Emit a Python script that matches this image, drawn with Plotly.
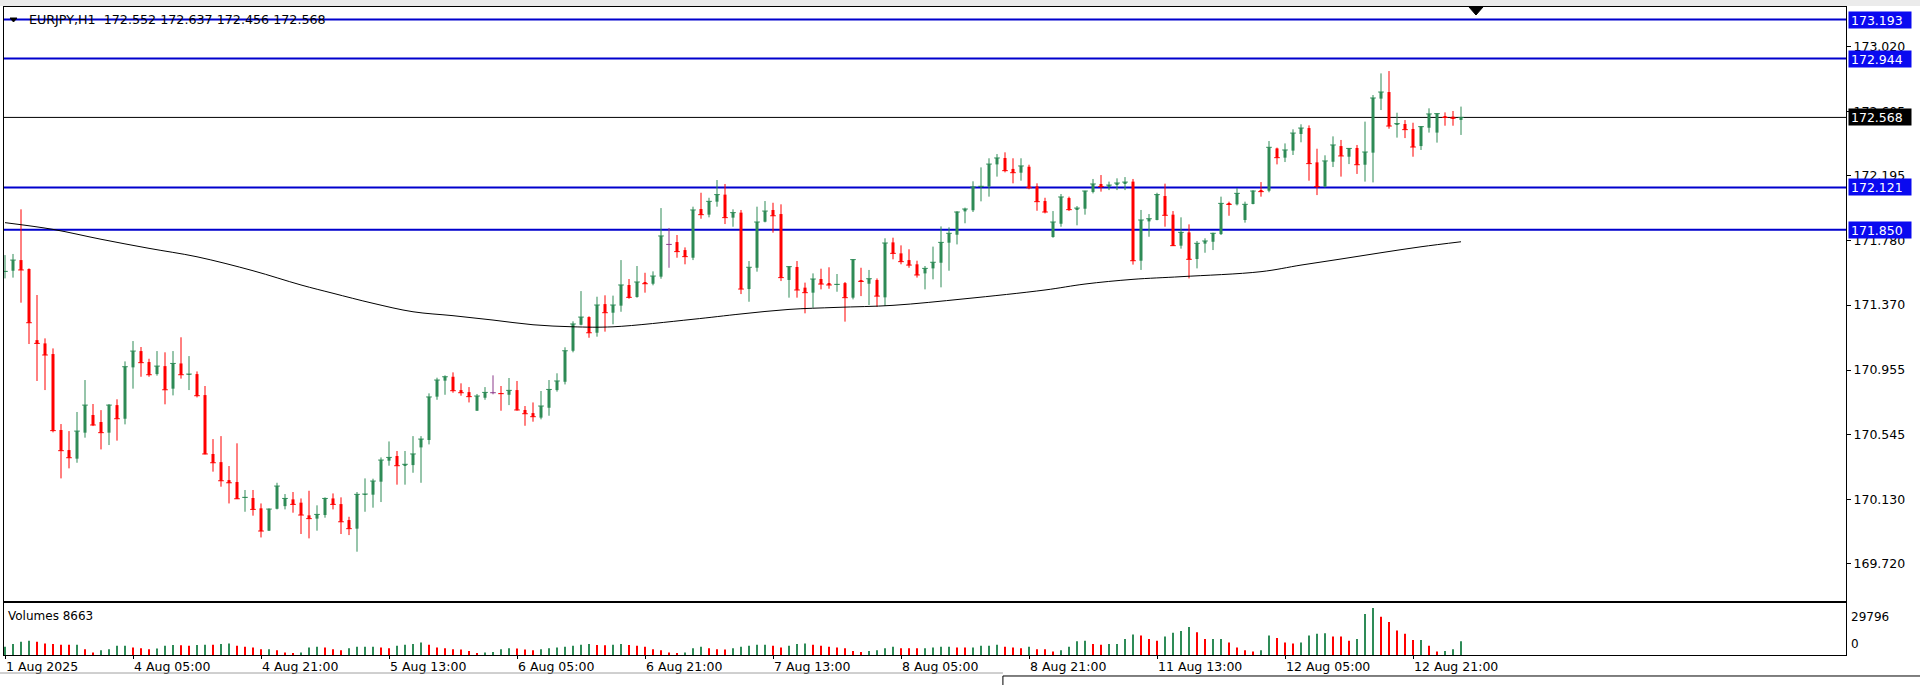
import plotly.graph_objects as go
from plotly.subplots import make_subplots

# EURJPY H1, 1 Aug 2025 13:00 .. 13 Aug 2025 03:00 (bar index 0..182)
symbol = "EURJPY,H1"

opens = [171.581, 171.589, 171.657, 171.600, 171.146, 171.125, 171.057, 170.572, 170.444, 170.389,
         170.555, 170.668, 170.623, 170.555, 170.731, 170.644, 170.972, 171.076, 171.006, 170.929,
         170.980, 170.836, 170.997, 170.925, 170.929, 170.795, 170.419, 170.367, 170.252, 170.240,
         170.138, 170.138, 170.072, 169.929, 170.069, 170.086, 170.129, 170.108, 170.027, 170.006,
         170.029, 170.135, 170.099, 169.997, 169.942, 170.159, 170.159, 170.242, 170.376, 170.406,
         170.348, 170.348, 170.461, 170.508, 170.785, 170.887, 170.912, 170.827, 170.814, 170.695,
         170.778, 170.810, 170.808, 170.797, 170.827, 170.700, 170.680, 170.651, 170.714, 170.827,
         170.880, 171.078, 171.244, 171.293, 171.193, 171.376, 171.321, 171.366, 171.498, 171.421,
         171.517, 171.506, 171.551, 171.757, 171.772, 171.721, 171.672, 171.983, 171.947, 172.030,
         172.075, 171.928, 171.960, 171.472, 171.608, 171.902, 171.977, 171.951, 171.530, 171.613,
         171.481, 171.449, 171.536, 171.510, 171.498, 171.510, 171.417, 171.530, 171.506, 171.530,
         171.419, 171.770, 171.700, 171.657, 171.630, 171.572, 171.604, 171.640, 171.768, 171.819,
         171.968, 171.975, 172.124, 172.126, 172.268, 172.309, 172.239, 172.215, 172.253, 172.128,
         172.034, 171.804, 171.889, 172.053, 171.981, 171.985, 172.092, 172.143, 172.124, 172.138,
         172.147, 172.158, 171.653, 171.904, 171.913, 172.066, 171.947, 171.749, 171.834, 171.664,
         171.762, 171.774, 171.823, 172.019, 172.013, 171.913, 172.015, 172.104, 172.100, 172.370,
         172.311, 172.356, 172.462, 172.500, 172.281, 172.126, 172.285, 172.385, 172.317, 172.373,
         172.266, 172.343, 172.688, 172.730, 172.524, 172.526, 172.494, 172.385, 172.502, 172.471,
         172.575, 172.573, 172.552]

highs = [171.689, 171.696, 171.981, 171.604, 171.434, 171.157, 171.093, 170.610, 170.565, 170.687,
         170.891, 170.738, 170.699, 170.738, 170.768, 171.010, 171.140, 171.102, 171.027, 171.076,
         171.068, 171.076, 171.164, 171.044, 170.946, 170.853, 170.514, 170.533, 170.342, 170.487,
         170.189, 170.189, 170.103, 170.072, 170.235, 170.163, 170.176, 170.135, 170.184, 170.091,
         170.142, 170.167, 170.142, 170.018, 170.176, 170.263, 170.261, 170.397, 170.499, 170.438,
         170.438, 170.533, 170.533, 170.806, 170.906, 170.921, 170.940, 170.870, 170.846, 170.802,
         170.846, 170.921, 170.853, 170.904, 170.885, 170.725, 170.748, 170.821, 170.891, 170.934,
         171.100, 171.266, 171.459, 171.298, 171.423, 171.432, 171.430, 171.657, 171.536, 171.619,
         171.576, 171.585, 171.989, 171.862, 171.817, 171.738, 171.998, 172.087, 172.055, 172.168,
         172.143, 171.981, 171.977, 171.651, 171.998, 172.034, 172.023, 172.013, 171.619, 171.651,
         171.513, 171.572, 171.602, 171.611, 171.568, 171.517, 171.664, 171.608, 171.594, 171.540,
         171.796, 171.800, 171.751, 171.726, 171.653, 171.619, 171.743, 171.872, 171.866, 171.970,
         171.992, 172.160, 172.249, 172.307, 172.334, 172.345, 172.307, 172.307, 172.266, 172.147,
         172.055, 171.970, 172.079, 172.062, 172.002, 172.100, 172.175, 172.200, 172.158, 172.179,
         172.187, 172.175, 171.977, 171.951, 172.087, 172.145, 171.970, 171.930, 171.885, 171.779,
         171.796, 171.832, 172.062, 172.030, 172.117, 172.030, 172.104, 172.155, 172.417, 172.375,
         172.402, 172.492, 172.524, 172.517, 172.368, 172.326, 172.447, 172.424, 172.372, 172.392,
         172.541, 172.711, 172.849, 172.864, 172.598, 172.551, 172.534, 172.513, 172.626, 172.594,
         172.600, 172.609, 172.637]

lows = [171.540, 171.545, 171.385, 171.121, 170.885, 170.827, 170.557, 170.263, 170.327, 170.363,
        170.523, 170.597, 170.448, 170.476, 170.504, 170.608, 170.836, 170.912, 170.912, 170.919,
        170.736, 170.793, 170.900, 170.827, 170.780, 170.416, 170.306, 170.210, 170.103, 170.131,
        170.050, 170.025, 169.886, 169.927, 170.065, 170.065, 170.044, 169.908, 169.880, 169.929,
        170.012, 170.065, 169.908, 169.901, 169.795, 170.050, 170.076, 170.112, 170.344, 170.223,
        170.223, 170.299, 170.235, 170.480, 170.765, 170.797, 170.810, 170.791, 170.748, 170.695,
        170.765, 170.800, 170.695, 170.731, 170.695, 170.599, 170.625, 170.640, 170.663, 170.817,
        170.863, 171.068, 171.240, 171.161, 171.168, 171.200, 171.247, 171.327, 171.410, 171.417,
        171.449, 171.496, 171.538, 171.608, 171.672, 171.630, 171.657, 171.921, 171.930, 171.998,
        171.887, 171.870, 171.440, 171.391, 171.583, 171.898, 171.832, 171.523, 171.417, 171.417,
        171.317, 171.353, 171.470, 171.474, 171.455, 171.264, 171.406, 171.427, 171.370, 171.359,
        171.364, 171.662, 171.630, 171.608, 171.545, 171.470, 171.534, 171.483, 171.589, 171.757,
        171.892, 171.964, 172.032, 172.062, 172.190, 172.217, 172.147, 172.164, 172.109, 171.972,
        171.955, 171.800, 171.870, 171.970, 171.879, 171.947, 172.083, 172.094, 172.104, 172.104,
        172.104, 171.628, 171.594, 171.806, 171.911, 171.870, 171.747, 171.730, 171.540, 171.604,
        171.704, 171.721, 171.817, 171.940, 172.006, 171.896, 172.013, 172.062, 172.090, 172.268,
        172.283, 172.328, 172.409, 172.164, 172.072, 172.121, 172.251, 172.190, 172.270, 172.207,
        172.158, 172.153, 172.615, 172.496, 172.439, 172.436, 172.317, 172.360, 172.471, 172.407,
        172.515, 172.515, 172.456]

closes = [171.585, 171.657, 171.594, 171.257, 171.125, 171.051, 170.568, 170.440, 170.395, 170.565,
          170.731, 170.604, 170.555, 170.731, 170.644, 170.976, 171.076, 171.002, 170.925, 170.980,
          170.829, 170.997, 170.925, 170.929, 170.791, 170.419, 170.363, 170.248, 170.235, 170.133,
          170.142, 170.065, 169.927, 170.067, 170.214, 170.135, 170.097, 170.029, 170.006, 170.033,
          170.135, 170.097, 169.986, 169.942, 170.161, 170.163, 170.246, 170.380, 170.397, 170.344,
          170.353, 170.419, 170.514, 170.783, 170.891, 170.912, 170.823, 170.810, 170.785, 170.789,
          170.812, 170.810, 170.804, 170.825, 170.700, 170.676, 170.657, 170.725, 170.831, 170.885,
          171.078, 171.249, 171.293, 171.193, 171.370, 171.321, 171.370, 171.498, 171.419, 171.517,
          171.506, 171.555, 171.811, 171.757, 171.711, 171.679, 171.977, 171.947, 172.032, 172.075,
          171.928, 171.960, 171.472, 171.611, 171.900, 171.970, 171.940, 171.545, 171.615, 171.466,
          171.449, 171.536, 171.504, 171.498, 171.502, 171.417, 171.660, 171.521, 171.538, 171.427,
          171.766, 171.700, 171.647, 171.625, 171.562, 171.604, 171.643, 171.770, 171.828, 171.964,
          171.983, 172.124, 172.128, 172.270, 172.309, 172.228, 172.215, 172.258, 172.119, 172.030,
          171.964, 171.900, 172.060, 171.979, 171.989, 172.098, 172.143, 172.126, 172.136, 172.149,
          172.155, 171.653, 171.913, 171.921, 172.075, 171.943, 171.749, 171.834, 171.662, 171.764,
          171.779, 171.828, 172.019, 172.013, 172.083, 172.013, 172.098, 172.094, 172.377, 172.311,
          172.360, 172.468, 172.500, 172.273, 172.126, 172.290, 172.392, 172.322, 172.370, 172.266,
          172.347, 172.692, 172.730, 172.513, 172.528, 172.490, 172.379, 172.509, 172.590, 172.592,
          172.568, 172.564, 172.568]

volumes = [5180, 6910, 8420, 9070, 8400, 7340, 6910, 6480, 6450, 6500,
           3670, 1510, 3020, 3670, 5830, 5850, 4750, 4320, 3670, 4100,
           5830, 6260, 6200, 5830, 6260, 6480, 6450, 6910, 7340, 5830,
           5180, 4750, 3670, 3700, 3020, 1510, 1080, 1510, 4750, 5180,
           4750, 3670, 3020, 4320, 5180, 5200, 5220, 4750, 4320, 5830,
           6480, 6910, 7990, 6480, 4750, 4320, 3670, 3460, 2590, 1300,
           1510, 1940, 3670, 4320, 4100, 3460, 3020, 3670, 4320, 4750,
           5180, 5830, 6480, 6910, 6260, 6200, 6480, 6910, 6260, 5830,
           5180, 3670, 3020, 1510, 1080, 1510, 4320, 5180, 4320, 3670,
           3460, 4320, 5180, 5830, 6480, 6500, 5830, 4750, 5830, 6910,
           7340, 6480, 5830, 5180, 4750, 4320, 2590, 1940, 2590, 3020,
           4320, 5180, 4320, 4300, 4280, 4320, 4750, 5180, 5200, 4750,
           4750, 4760, 5830, 5850, 6480, 5180, 4750, 4320, 5180, 3670,
           3650, 2160, 3020, 5180, 8640, 9070, 6910, 6480, 6910, 6930,
           10150, 12960, 12310, 10150, 9070, 11660, 14040, 15120, 17710, 14470,
           10150, 10170, 10190, 7990, 4750, 3020, 2160, 3020, 12310, 10800,
           7990, 7340, 7990, 12310, 13390, 13820, 11660, 11640, 9070, 10150,
           25920, 29796, 24190, 20950, 15550, 13390, 9500, 9520, 5830, 2160,
           2590, 3670, 8663]

# moving average read at a few bars
ma_idx = [0, 6, 12, 18, 24, 31, 37, 41, 46, 51, 56, 61, 66, 71, 76, 86, 92, 98,
          104, 111, 120, 130, 135, 141, 147, 157, 162, 167, 172, 177, 182]
ma_vals = [171.896, 171.853, 171.790, 171.732, 171.678, 171.589, 171.498, 171.445, 171.381,
           171.327, 171.302, 171.274, 171.244, 171.231, 171.231, 171.279, 171.313, 171.342,
           171.355, 171.368, 171.410, 171.466, 171.504, 171.534, 171.551, 171.583, 171.625,
           171.664, 171.704, 171.742, 171.774]

level_prices = [173.193, 172.944, 172.121, 171.850]
bid_price = 172.568

price_ticks = [173.020, 172.605, 172.195, 171.780, 171.370, 170.955, 170.545, 170.130, 169.720]
time_tick_idx = [0, 16, 32, 48, 64, 80, 96, 112, 128, 144, 160, 176]
time_tick_labels = ["1 Aug 2025", "4 Aug 05:00", "4 Aug 21:00", "5 Aug 13:00", "6 Aug 05:00",
                    "6 Aug 21:00", "7 Aug 13:00", "8 Aug 05:00", "8 Aug 21:00", "11 Aug 13:00",
                    "12 Aug 05:00", "12 Aug 21:00"]
vol_max_label = 29796

BULL = "#2E8B57"
BEAR = "#FF0000"
DOJI = "#8B3A8B"
LEVEL = "#0000CD"
LEVEL_TAG = "#0A0AF0"
FONT = "DejaVu Sans"

idx = list(range(len(opens)))
colors = []
for o, c in zip(opens, closes):
    if c > o:
        colors.append(BULL)
    elif c < o:
        colors.append(BEAR)
    else:
        colors.append(DOJI)

vol_colors = [BULL]
for k in range(1, len(volumes)):
    vol_colors.append(BULL if volumes[k] > volumes[k - 1] else BEAR)

fig = make_subplots(rows=2, cols=1, shared_xaxes=True)

# wicks, one trace per colour
for col in (BULL, BEAR, DOJI):
    wx, wy = [], []
    for k in idx:
        if colors[k] == col:
            wx += [k, k, None]
            wy += [lows[k], highs[k], None]
    if wx:
        fig.add_trace(go.Scatter(x=wx, y=wy, mode="lines", line=dict(color=col, width=1),
                                 hoverinfo="skip", showlegend=False), row=1, col=1)

# bodies
fig.add_trace(go.Bar(x=idx, y=[abs(c - o) for o, c in zip(opens, closes)],
                     base=[min(o, c) for o, c in zip(opens, closes)],
                     width=0.375, marker=dict(color=colors, line=dict(width=0)),
                     showlegend=False), row=1, col=1)
# close tick (keeps dojis visible)
fig.add_trace(go.Scatter(x=idx, y=closes, mode="markers",
                         marker=dict(symbol="line-ew", size=4, line=dict(color=colors, width=1)),
                         hoverinfo="skip", showlegend=False), row=1, col=1)

fig.add_trace(go.Scatter(x=ma_idx, y=ma_vals, mode="lines",
                         line=dict(color="black", width=1, shape="spline"),
                         hoverinfo="skip", showlegend=False), row=1, col=1)

fig.add_trace(go.Bar(x=idx, y=volumes, width=0.14, marker=dict(color=vol_colors, line=dict(width=0)),
                     showlegend=False), row=2, col=1)

axis_common = dict(showgrid=False, zeroline=False, showline=True, mirror=True,
                   linecolor="black", linewidth=1)

fig.update_layout(
    width=1920, height=685,
    margin=dict(l=4, r=74, t=7, b=30),
    paper_bgcolor="white", plot_bgcolor="white",
    font=dict(family=FONT, size=12, color="black"),
    barmode="overlay",
    showlegend=False,
    xaxis=dict(range=[-0.125, 230.125], showticklabels=False, ticks="", **axis_common),
    xaxis2=dict(range=[-0.125, 230.125], tickvals=time_tick_idx, ticktext=time_tick_labels,
                ticks="outside", ticklen=3, tickcolor="black", ticklabelposition="outside right",
                tickfont=dict(family=FONT, size=12.5), **axis_common),
    yaxis=dict(domain=[0.0833, 1], range=[169.480, 173.273], side="right",
               tickvals=price_ticks, ticktext=["%.3f" % p for p in price_ticks],
               ticks="outside", ticklen=4, tickcolor="black",
               tickfont=dict(family=FONT, size=12.5), **axis_common),
    yaxis2=dict(domain=[0, 0.0802], range=[0, 32900], side="right", showticklabels=False,
                ticks="", **axis_common),
)

shapes = []
for p in level_prices:
    shapes.append(dict(type="line", xref="x domain", x0=0, x1=1, yref="y", y0=p, y1=p,
                       line=dict(color=LEVEL, width=2), layer="below"))
shapes.append(dict(type="line", xref="x domain", x0=0, x1=1, yref="y", y0=bid_price, y1=bid_price,
                   line=dict(color="black", width=1), layer="below"))
# window chrome: top strip, shift marker, bottom tab bar
shapes.append(dict(type="rect", xref="paper", yref="paper", x0=-0.01, x1=1.05, y0=1.0015, y1=1.02,
                   fillcolor="#EBEBEB", line=dict(width=0), layer="below"))
shapes.append(dict(type="path", xref="paper", yref="paper",
                   path="M 0.79533 1 L 0.80293 1 L 0.79913 0.98765 Z",
                   fillcolor="black", line=dict(color="black", width=1)))
# small menu arrow in front of the symbol text
shapes.append(dict(type="path", xref="paper", yref="paper",
                   path="M 0.00326 0.9830 L 0.00706 0.9830 L 0.00516 0.9769 Z",
                   fillcolor="black", line=dict(color="black", width=1)))
shapes.append(dict(type="line", xref="paper", yref="paper", x0=-0.01, x1=0.5423,
                   y0=-0.0278, y1=-0.0278, line=dict(color="#A0A0A0", width=1)))
shapes.append(dict(type="rect", xref="paper", yref="paper", x0=0.5423, x1=1.05,
                   y0=-0.0324, y1=-0.06, fillcolor="white", line=dict(color="black", width=1)))
fig.update_layout(shapes=shapes)

ann = []
for p in level_prices:
    ann.append(dict(xref="x domain", x=1, yref="y", y=p, xanchor="left", yanchor="middle",
                    xshift=2, text="%.3f" % p, showarrow=False, align="left",
                    width=58, height=12, borderpad=2, bgcolor=LEVEL_TAG,
                    font=dict(family=FONT, size=12.5, color="white")))
ann.append(dict(xref="x domain", x=1, yref="y", y=bid_price, xanchor="left", yanchor="middle",
                xshift=2, text="%.3f" % bid_price, showarrow=False, align="left",
                width=58, height=12, borderpad=2, bgcolor="black",
                font=dict(family=FONT, size=12.5, color="white")))
ann.append(dict(xref="paper", x=0.0125, yref="paper", y=0.980, xanchor="left", yanchor="middle",
                text="%s  %.3f %.3f %.3f %.3f" % (symbol, opens[-1], highs[-1], lows[-1], closes[-1]),
                showarrow=False, font=dict(family=FONT, size=12.7, color="black")))
ann.append(dict(xref="x2 domain", x=0, yref="y2 domain", y=1, xanchor="left", yanchor="top",
                xshift=2, yshift=-4, text="Volumes %d" % volumes[-1], showarrow=False,
                font=dict(family=FONT, size=12, color="black")))
ann.append(dict(xref="x2 domain", x=1, yref="y2", y=vol_max_label, xanchor="left", yanchor="top",
                xshift=3, text=str(vol_max_label), showarrow=False,
                font=dict(family=FONT, size=12, color="black")))
ann.append(dict(xref="x2 domain", x=1, yref="y2", y=0, xanchor="left", yanchor="bottom",
                xshift=3, yshift=2, text="0", showarrow=False,
                font=dict(family=FONT, size=12, color="black")))
fig.update_layout(annotations=ann)

# page body has a default 8px margin; drop it so the chart sits at the window corner
fig.write_html("out.html", config={"displayModeBar": False},
               post_script="document.body.style.margin='0';")
